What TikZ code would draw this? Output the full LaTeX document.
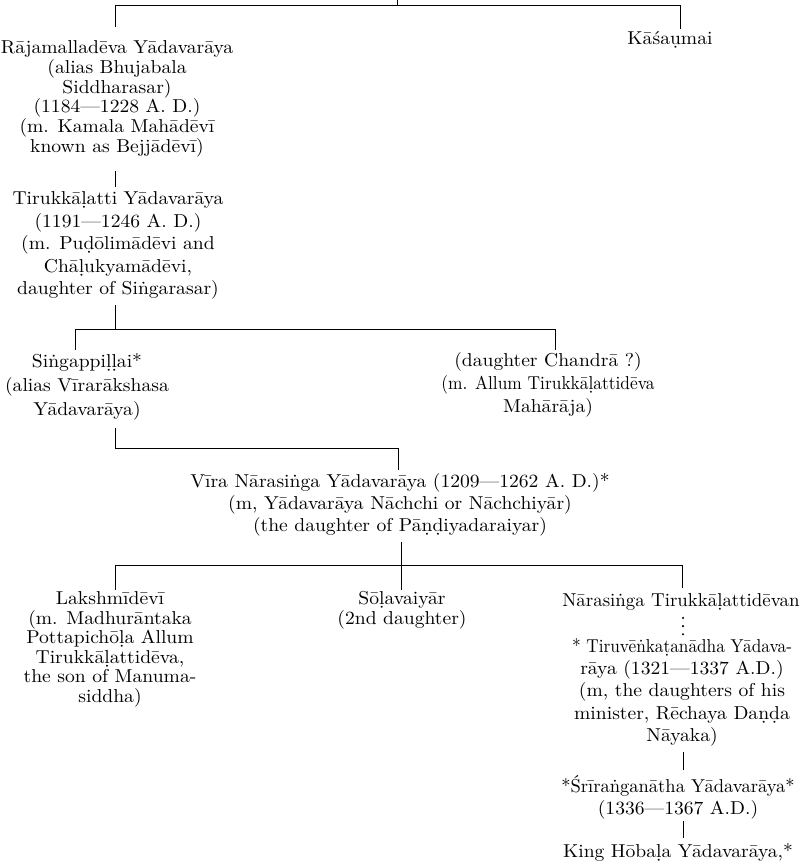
\documentclass[tikz,border=0pt]{standalone}
\usepackage{fontspec}
\setmainfont{lmroman10-regular.otf}[FakeStretch=1.05]
% dot-below letter: precomposed glyph if the font has it, else a built one
\newcommand\UD[2]{\iffontchar\font`#2 #2\else\oalign{#1\crcr\hidewidth.\hidewidth}\fi}
\newcommand\ndot{\iffontchar\font"1E45 ṅ\else\accent"02D9 n\fi}
\newcommand\stk[1]{\begin{tabular}[t]{@{}c@{}}#1\end{tabular}}
\newcommand\fs[1]{\fontsize{14}{#1}\selectfont}
\newcommand\fitw[2]{\resizebox{#1}{\height}{#2}}
\tikzset{
  lbl/.style={inner sep=0pt, anchor=base, text=black},
  ln/.style={line width=0.6pt, draw=black},
}
\begin{document}
\begin{tikzpicture}[x=0.75pt,y=-0.75pt]
\fill[white] (0,0) rectangle (802,866);
\useasboundingbox (0,0) rectangle (802,866);

% junction coordinates
\coordinate (cTop) at (397,0);
\coordinate (cTopJ) at (397,5);
\coordinate (cL) at (115,5);
\coordinate (cR) at (680,5);
\coordinate (j2) at (115,329);
\coordinate (j2L) at (75,329);
\coordinate (j2R) at (555,329);
\coordinate (j3) at (115,448);
\coordinate (j3R) at (398,448);
\coordinate (j4) at (401,565);
\coordinate (j4L) at (115,565);
\coordinate (j4R) at (682,565);
\coordinate (xR) at (683,700);

% nodes
\node[lbl, font=\fs{14.5}] (raja) at (117,53.5) {\stk{Rājamalladēva Yādavarāya\\(alias Bhujabala\\Siddharasar)\\(1184—1228 A. D.)\\(m. Kamala Mahādēvī\\known as Bejjādēvī)}};
\node[lbl, font=\fs{14.5}] (kasa) at (670,44.5) {\stk{Kāśa\UD{u}{ụ}mai}};
\node[lbl, font=\fs{16.9}] (tiru) at (118,204.5) {\stk{Tirukkā\UD{l}{ḷ}atti Yādavarāya\\(1191—1246 A. D.)\\(m. Pu\UD{d}{ḍ}ōlimādēvi and\\Chā\UD{l}{ḷ}ukyamādēvi,\\daughter of Si\ndot garasar)}};
\node[lbl, font=\fs{18}] (sing) at (87,367.5) {\stk{Si\ndot gappi\UD{l}{ḷ}\UD{l}{ḷ}ai*\\(alias Vīrarākshasa\\Yādavarāya)}};
\node[lbl, font=\fs{17.25}] (chandra) at (548,366.5) {\stk{(daughter Chandrā ?)\\\fitw{160pt}{(m. Allum Tirukkā\UD{l}{ḷ}attidēva}\\Mahārāja)}};
\node[lbl, font=\fs{16.5}] (vira) at (400,487.5) {\stk{Vīra Nārasi\ndot ga Yādavarāya (1209—1262 A. D.)*\\(m, Yādavarāya Nāchchi or Nāchchiyār)\\(the daughter of Pā\UD{n}{ṇ}\UD{d}{ḍ}iyadaraiyar)}};
\node[lbl, font=\fs{14.6}] (laksh) at (110,604.5) {\stk{Lakshmīdēvī\\(m. Madhurāntaka\\Pottapichō\UD{l}{ḷ}a Allum\\Tirukkā\UD{l}{ḷ}attidēva,\\the son of Manuma-\\siddha)}};
\node[lbl, font=\fs{14.25}] (sola) at (402,604.5) {\stk{Sō\UD{l}{ḷ}avaiyār\\(2nd daughter)}};
\node[lbl, font=\fs{16.3}] (nara) at (681,606.5) {\stk{\fitw{178pt}{Nārasi\ndot ga Tirukkā\UD{l}{ḷ}attidēvan}}};
\node[lbl, font=\fs{16.65}] (tiruv) at (682,652.5) {\stk{\fitw{165pt}{* Tiruvē\ndot ka\UD{t}{ṭ}anādha Yādava-}\\rāya (1321—1337 A.D.)\\(m, the daughters of his\\minister, Rēchaya Da\UD{n}{ṇ}\UD{d}{ḍ}a\\Nāyaka)}};
\node[lbl, font=\fs{16.5}] (sri) at (678,792.5) {\stk{\fitw{175pt}{*Śrīra\ndot ganātha Yādavarāya*}\\(1336—1367 A.D.)}};
\node[lbl, font=\fs{16.5}] (king) at (678,857.5) {\stk{King Hōba\UD{l}{ḷ}a Yādavarāya,*}};

% connectors
\draw[ln] (cTop) -- (cTopJ);
\draw[ln, line width=0.7pt, shorten <=9.75pt, shorten >=1.5pt] (raja.north -| cL) -- (cL) -- (cR) -- (kasa.north -| cR);
\draw[ln, shorten <=9.15pt, shorten >=1.3pt] (raja.south -| cL) -- (tiru.north -| cL);
\draw[ln, shorten <=2.8pt] (tiru.south -| j2) -- (j2);
\draw[ln, shorten <=0.5pt, shorten >=0.3pt] (sing.north -| j2L) -- (j2L) -- (j2R) -- (chandra.north -| j2R);
\draw[ln, shorten <=4pt, shorten >=1.6pt] (sing.south -| j3) -- (j3) -- (j3R) -- (vira.north -| j3R);
\draw[ln, shorten <=3pt, shorten >=0.9pt] (vira.south -| j4) -- (sola.north -| j4);
\draw[ln, shorten <=0.6pt, shorten >=2.5pt] (laksh.north -| j4L) -- (j4L) -- (j4R) -- (nara.north -| j4R);
\draw[line width=1.8pt, line cap=round, dash pattern=on 0pt off 6.1pt, shorten <=3.5pt, shorten >=1.5pt] (nara.south -| xR) -- (tiruv.north -| xR);
\draw[ln, shorten <=3pt, shorten >=3.75pt] (tiruv.south -| xR) -- (sri.north -| xR);
\draw[ln, shorten >=3pt] (sri.south -| xR) -- (king.north -| xR);
\end{tikzpicture}
\end{document}
